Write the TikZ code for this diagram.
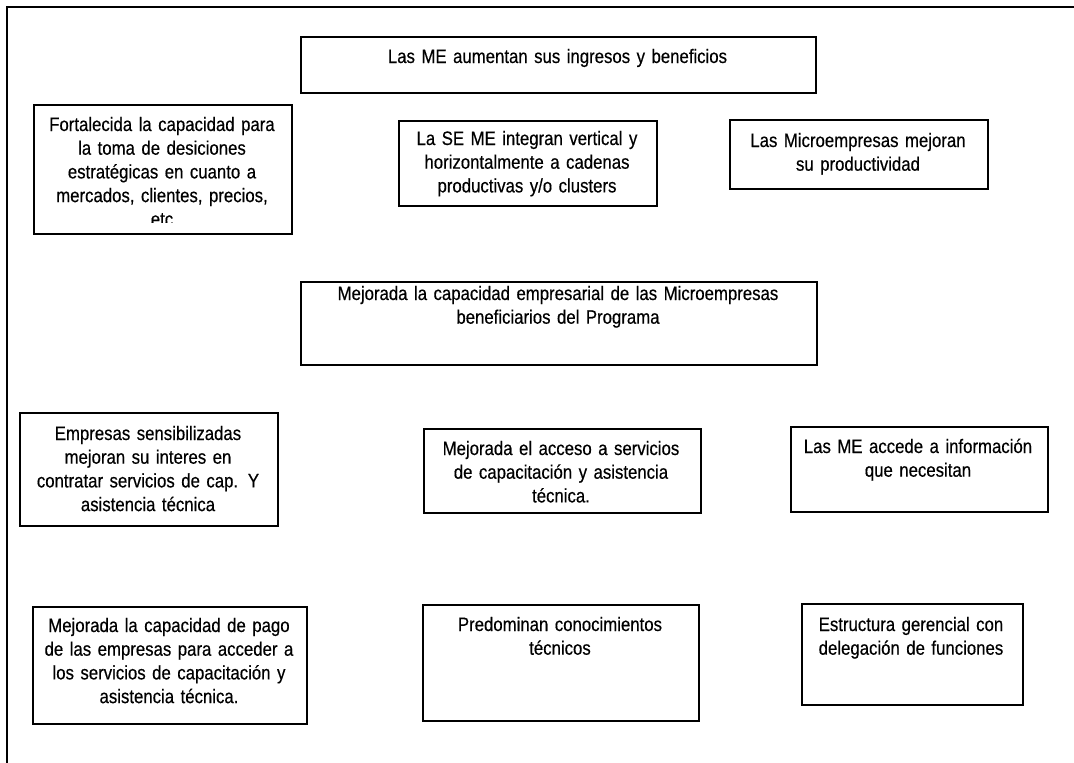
\documentclass[tikz,border=0pt]{standalone}
\usepackage{fontspec}
\setmainfont{Liberation Sans}[FakeStretch=0.86,FakeBold=0.4]
\begin{document}
\begin{tikzpicture}[x=1pt,y=-1pt,
  box/.style={draw, line width=1.6pt, inner sep=0pt, anchor=north west},
  lbl/.style={font=\fontsize{19.5}{23.7}\selectfont, align=center, inner sep=0pt, anchor=base},
  frameline/.style={line width=1.6pt}]
\useasboundingbox (0,0) rectangle (1074,763);
\fill[white] (0,0) rectangle (1074,763);
% frame
\coordinate (fa) at (7,763);
\coordinate (fb) at (7,7);
\coordinate (fc) at (1074,7);
\draw[frameline] (fa) -- (fb) -- (fc);
% boxes
\node[box, minimum width=515pt, minimum height=56pt] (b1) at (300,36) {};
\node[box, minimum width=258pt, minimum height=129pt] (b2) at (33,104) {};
\node[box, minimum width=258pt, minimum height=85pt] (b3) at (398,120) {};
\node[box, minimum width=258pt, minimum height=69pt] (b4) at (729,119) {};
\node[box, minimum width=516pt, minimum height=83pt] (b5) at (300,281) {};
\node[box, minimum width=258pt, minimum height=113pt] (b6) at (19,412) {};
\node[box, minimum width=277pt, minimum height=84pt] (b7) at (423,428) {};
\node[box, minimum width=257pt, minimum height=85pt] (b8) at (790,426) {};
\node[box, minimum width=274pt, minimum height=117pt] (b9) at (32,606) {};
\node[box, minimum width=276pt, minimum height=116pt] (b10) at (422,604) {};
\node[box, minimum width=221pt, minimum height=101pt] (b11) at (801,603) {};
% texts
\node[lbl, text width=500pt] (t1) at (557.5,63) {Las ME aumentan sus ingresos y beneficios};
\begin{scope}
\clip (33,104) rectangle (291,222);
\node[lbl, text width=250pt] (t2) at (162,131) {Fortalecida la capacidad para\\la toma de desiciones\\estratégicas en cuanto a\\mercados, clientes, precios,\\etc};
\end{scope}
\node[lbl, text width=250pt] (t3) at (527,145) {La SE ME integran vertical y\\horizontalmente a cadenas\\productivas y/o clusters};
\node[lbl, text width=250pt] (t4) at (858,147) {Las Microempresas mejoran\\su productividad};
\node[lbl, text width=510pt] (t5) at (558,300) {Mejorada la capacidad empresarial de las Microempresas\\beneficiarios del Programa};
\node[lbl, text width=250pt] (t6) at (148,440) {Empresas sensibilizadas\\mejoran su interes en\\contratar servicios de cap. Y\\asistencia técnica};
\node[lbl, text width=270pt] (t7) at (561,455) {Mejorada el acceso a servicios\\de capacitación y asistencia\\técnica.};
\node[lbl, text width=250pt] (t8) at (918,453) {Las ME accede a información\\que necesitan};
\node[lbl, text width=270pt] (t9) at (169,632) {Mejorada la capacidad de pago\\de las empresas para acceder a\\los servicios de capacitación y\\asistencia técnica.};
\node[lbl, text width=270pt] (t10) at (560,631) {Predominan conocimientos\\técnicos};
\node[lbl, text width=215pt] (t11) at (911,631) {Estructura gerencial con\\delegación de funciones};
\end{tikzpicture}
\end{document}
